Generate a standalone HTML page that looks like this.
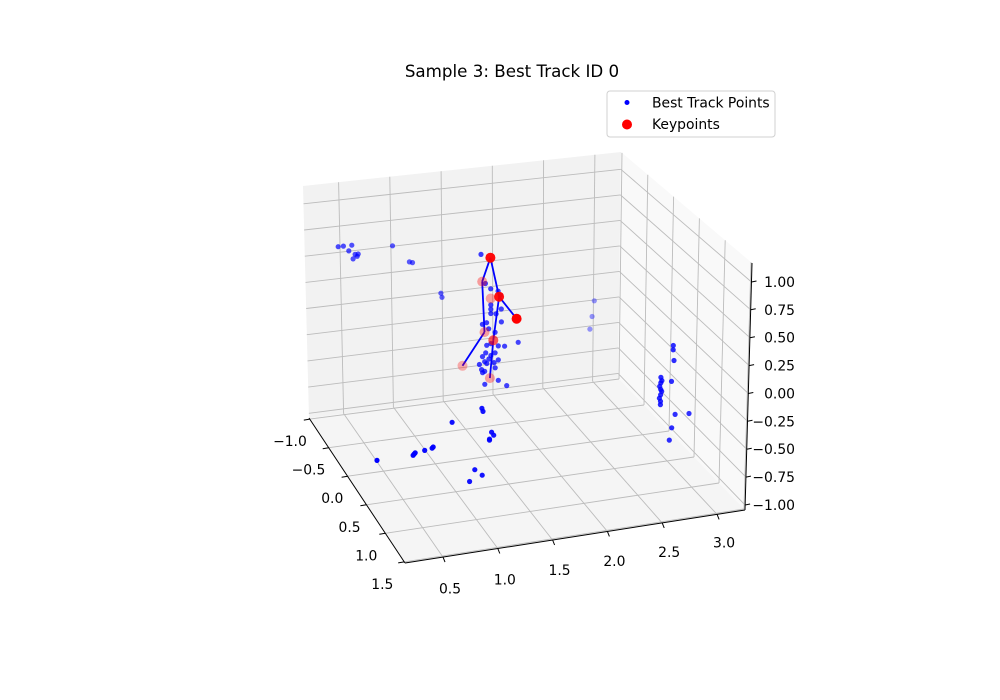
<!DOCTYPE html>
<html>
<head>
<meta charset="utf-8">
<style>
  html,body{margin:0;padding:0;background:#fff;}
  svg{display:block;font-family:"DejaVu Sans","Liberation Sans",sans-serif;}
</style>
</head>
<body>
<svg id="chart" width="1000" height="700" viewBox="0 0 1000 700" xmlns="http://www.w3.org/2000/svg">
  <rect x="0" y="0" width="1000" height="700" fill="#ffffff"/>
  <text x="512" y="77" font-size="16.7" text-anchor="middle" fill="#000">Sample 3: Best Track ID 0</text>
  <g id="panes"></g>
  <g id="grid"></g>
  <g id="axes"></g>
  <g id="marks"></g>
  <g>
    <rect x="607" y="91" width="168" height="46" rx="3" fill="#ffffff" fill-opacity="0.8" stroke="#d0d0d0" stroke-width="1"/>
    <circle cx="627" cy="102.5" r="2.5" fill="#0000ff"/>
    <text x="652" y="107.5" font-size="13.9" fill="#000">Best Track Points</text>
    <circle cx="627" cy="124.5" r="5" fill="#ff0000"/>
    <text x="652" y="129" font-size="13.9" fill="#000">Keypoints</text>
  </g>
</svg>
<script>
// ---- data ----
const trackX = [1.45,1.49,1.54,1.61,1.63,1.54,1.54,1.64,1.54,1.59,1.46,1.50,1.64,1.52,1.58,1.54,1.50,1.61,1.67,1.80,1.49,1.54,1.58,1.46,1.52,1.61,1.43,1.48,1.50,1.57,1.45,1.48,1.58,1.46,1.61,1.48,1.69,
  0.29,0.34,0.42,0.39,0.45,0.48,0.43,0.47,0.81,0.97,1.00,1.27,1.28,
  2.90,2.88,2.86,
  2.99,2.99,3.00,2.98,2.88,2.89,2.88,2.87,2.88,2.89,2.88,2.87,2.88,2.88,3.02,3.15,2.99,2.97,
  1.25,1.26,0.97,1.34,1.36,1.32,1.32,0.26,0.61,0.62,0.60,0.71,0.78,0.79,1.18,1.25,1.13];
const trackY = [0,0,0,0,0,0,0,0,0,0,0,0,0,0,0,0,0,0,0,0,0,0,0,0,0,0,0,0,0,0,0,0,0,0,0,0,0,
  -0.5,-0.5,-0.5,-0.5,-0.5,-0.5,-0.5,-0.5,-0.5,-0.5,-0.5,-0.5,-0.5,
  -0.8,-0.8,-0.8,
  0.6,0.6,0.6,0.6,0.6,0.6,0.6,0.6,0.6,0.6,0.6,0.6,0.6,0.6,0.6,0.6,0.6,0.6,
  0.5,0.5,0.5,0.5,0.5,0.5,0.5,0.5,0.5,0.5,0.5,0.5,0.5,0.5,0.5,0.5,0.5];
const trackZ = [0.84,0.565,0.51,0.48,0.44,0.36,0.32,0.31,0.28,0.27,0.19,0.20,0.19,0.14,0.10,0.0,-0.01,-0.03,-0.04,-0.02,-0.08,-0.11,-0.09,-0.11,-0.14,-0.16,-0.18,-0.16,-0.18,-0.18,-0.23,-0.25,-0.23,-0.26,-0.35,-0.37,-0.41,
  0.82,0.82,0.82,0.77,0.73,0.73,0.69,0.71,0.77,0.60,0.59,0.27,0.23,
  -0.14,-0.29,-0.41,
  0.07,0.03,-0.07,-0.26,-0.21,-0.24,-0.26,-0.29,-0.32,-0.34,-0.37,-0.40,-0.43,-0.46,-0.57,-0.58,-0.69,-0.80,
  -0.32,-0.35,-0.41,-0.55,-0.58,-0.61,-0.62,-0.66,-0.65,-0.64,-0.66,-0.63,-0.62,-0.61,-0.87,-0.93,-0.97];
const keyX = [1.415,1.585,1.495,1.665,1.617,1.605,1.563,1.432,1.655];
const keyY = [0.3,-0.3,0.3,-0.3,0.4,-0.3,0.0,-0.4,-0.3];
const keyZ = [0.945,0.435,0.577,0.266,0.405,-0.043,0.028,-0.387,-0.482];
const boneFrom = [0,0,1,5,2,2,6];
const boneTo   = [1,2,5,7,4,6,8];
const xTicks = [0.5,1.0,1.5,2.0,2.5,3.0];
const yTicks = [-1.0,-0.5,0.0,0.5,1.0,1.5];
const zTicks = [-1.0,-0.75,-0.5,-0.25,0.0,0.25,0.5,0.75,1.0];
const xTickLabels = ["0.5","1.0","1.5","2.0","2.5","3.0"];
const yTickLabels = ["\u22121.0","\u22120.5","0.0","0.5","1.0","1.5"];
const zTickLabels = ["\u22121.00","\u22120.75","\u22120.50","\u22120.25","0.00","0.25","0.50","0.75","1.00"];

// ---- projection ----
const XMIN=0.153, XMAX=3.255, YMIN=-1.02, YMAX=1.52, ZMIN=-1.045, ZMAX=1.17;
const FA=[309,418], FB=[618,378], FC=[745,510], FD=[405,563];
const TA=[303,186], TB=[621,152], TC=[752,263], TD=[401,308];
function bil(P,Q,R,S,u,v){
  return [P[0]*(1-u)*(1-v)+Q[0]*u*(1-v)+R[0]*u*v+S[0]*(1-u)*v,
          P[1]*(1-u)*(1-v)+Q[1]*u*(1-v)+R[1]*u*v+S[1]*(1-u)*v];
}
function proj(x,y,z){
  const u=(x-XMIN)/(XMAX-XMIN), v=(y-YMIN)/(YMAX-YMIN), w=(z-ZMIN)/(ZMAX-ZMIN);
  const f=bil(FA,FB,FC,FD,u,v), t=bil(TA,TB,TC,TD,u,v);
  return [f[0]*(1-w)+t[0]*w, f[1]*(1-w)+t[1]*w];
}
function depth(x,y){
  const u=(x-XMIN)/(XMAX-XMIN), v=(y-YMIN)/(YMAX-YMIN);
  return (1-v)*0.95+u*0.3;
}
const NS="http://www.w3.org/2000/svg";
function mk(tag, parent, attrs){
  const e=document.createElementNS(NS,tag);
  for(const k in attrs) e.setAttribute(k,attrs[k]);
  parent.appendChild(e); return e;
}
function pts(arr){return arr.map(p=>p[0].toFixed(1)+","+p[1].toFixed(1)).join(" ");}

const panes=document.getElementById('panes');
let p=mk('polygon',panes,{points:pts([proj(XMIN,YMIN,ZMIN),proj(XMAX,YMIN,ZMIN),proj(XMAX,YMIN,ZMAX),proj(XMIN,YMIN,ZMAX)]),fill:'#f2f2f2'});


p=mk('polygon',panes,{points:pts([proj(XMAX,YMIN,ZMIN),proj(XMAX,YMAX,ZMIN),proj(XMAX,YMAX,ZMAX),proj(XMAX,YMIN,ZMAX)]),fill:'#f9f9f9'});


p=mk('polygon',panes,{points:pts([proj(XMIN,YMIN,ZMIN),proj(XMAX,YMIN,ZMIN),proj(XMAX,YMAX,ZMIN),proj(XMIN,YMAX,ZMIN)]),fill:'#f5f5f5'});



const grid=document.getElementById('grid');
const GS={stroke:'#bcbcbc','stroke-width':0.9,fill:'none'};
function gline(a,b,name){
  const l=mk('polyline',grid,Object.assign({points:pts([a,b])},GS));
  
  
}
xTicks.forEach(t=>{
  gline(proj(t,YMIN,ZMIN),proj(t,YMAX,ZMIN),'x-grid-floor');
  gline(proj(t,YMIN,ZMIN),proj(t,YMIN,ZMAX),'x-grid-back');
});
yTicks.forEach(t=>{
  gline(proj(XMIN,t,ZMIN),proj(XMAX,t,ZMIN),'y-grid-floor');
  gline(proj(XMAX,t,ZMIN),proj(XMAX,t,ZMAX),'y-grid-right');
});
zTicks.forEach(t=>{
  gline(proj(XMIN,YMIN,t),proj(XMAX,YMIN,t),'z-grid-back');
  gline(proj(XMAX,YMIN,t),proj(XMAX,YMAX,t),'z-grid-right');
});

const axes=document.getElementById('axes');
function aline(a,b,name,w){
  const l=mk('polyline',axes,{points:pts([a,b]),stroke:'#000','stroke-width':w||1,fill:'none'});
  
  
}
function txt(x,y,s,anchor,name){
  const t=mk('text',axes,{x:x.toFixed(1),y:y.toFixed(1),'font-size':13.9,'text-anchor':anchor,fill:'#000'});
  t.textContent=s;
  
  
}
aline(proj(XMIN,YMAX,ZMIN),proj(XMAX,YMAX,ZMIN),'x-axis-line');
aline(proj(XMIN,YMIN,ZMIN),proj(XMIN,YMAX,ZMIN),'y-axis-line');
aline(proj(XMAX,YMAX,ZMIN),proj(XMAX,YMAX,ZMAX),'z-axis-line');
xTicks.forEach((t,i)=>{
  const q=proj(t,YMAX,ZMIN);
  aline(q,[q[0]+2,q[1]+5],'x-tick');
  const u=(t-XMIN)/(XMAX-XMIN);
  txt(q[0]+7,q[1]+37-4*u,xTickLabels[i],'middle','x-tick-label');
});
yTicks.forEach((t,i)=>{
  const q=proj(XMIN,t,ZMIN);
  aline(q,[q[0]-6,q[1]+1],'y-tick');
  const v=(t-YMIN)/(YMAX-YMIN);
  txt(q[0]-3-8*v*v,q[1]+27,yTickLabels[i],'end','y-tick-label');
});
zTicks.forEach((t,i)=>{
  const q=proj(XMAX,YMAX,t);
  aline(q,[q[0]+5,q[1]-1],'z-tick');
  txt(795,q[1]+5,zTickLabels[i],'end','z-tick-label');
});

const marks=document.getElementById('marks');
const tDepth=trackX.map((x,i)=>depth(x,trackY[i]));
const dmin=Math.min(...tDepth), dmax=Math.max(...tDepth);
const order=trackX.map((_,i)=>i).sort((a,b)=>tDepth[b]-tDepth[a]);
order.forEach(i=>{
  const q=proj(trackX[i],trackY[i],trackZ[i]);
  const a=1-0.6*(tDepth[i]-dmin)/(dmax-dmin||1);
  const c=mk('circle',marks,{cx:q[0].toFixed(1),cy:q[1].toFixed(1),r:2.6,fill:'#0000ff','fill-opacity':a.toFixed(2)});
  
  
});
boneFrom.forEach((f,i)=>{
  const t=boneTo[i];
  const a=proj(keyX[f],keyY[f],keyZ[f]), b=proj(keyX[t],keyY[t],keyZ[t]);
  const l=mk('line',marks,{x1:a[0].toFixed(1),y1:a[1].toFixed(1),x2:b[0].toFixed(1),y2:b[1].toFixed(1),stroke:'#0000ff','stroke-width':1.8});
  
  
});
const kDepth=keyX.map((x,i)=>depth(x,keyY[i]));
const kmin=Math.min(...kDepth), kmax=Math.max(...kDepth);
const korder=keyX.map((_,i)=>i).sort((a,b)=>kDepth[b]-kDepth[a]);
korder.forEach(i=>{
  const q=proj(keyX[i],keyY[i],keyZ[i]);
  const a=1-0.7*(kDepth[i]-kmin)/(kmax-kmin||1);
  const c=mk('circle',marks,{cx:q[0].toFixed(1),cy:q[1].toFixed(1),r:5,fill:'#ff0000','fill-opacity':a.toFixed(2)});
  
  
});
</script>
</body>
</html>
